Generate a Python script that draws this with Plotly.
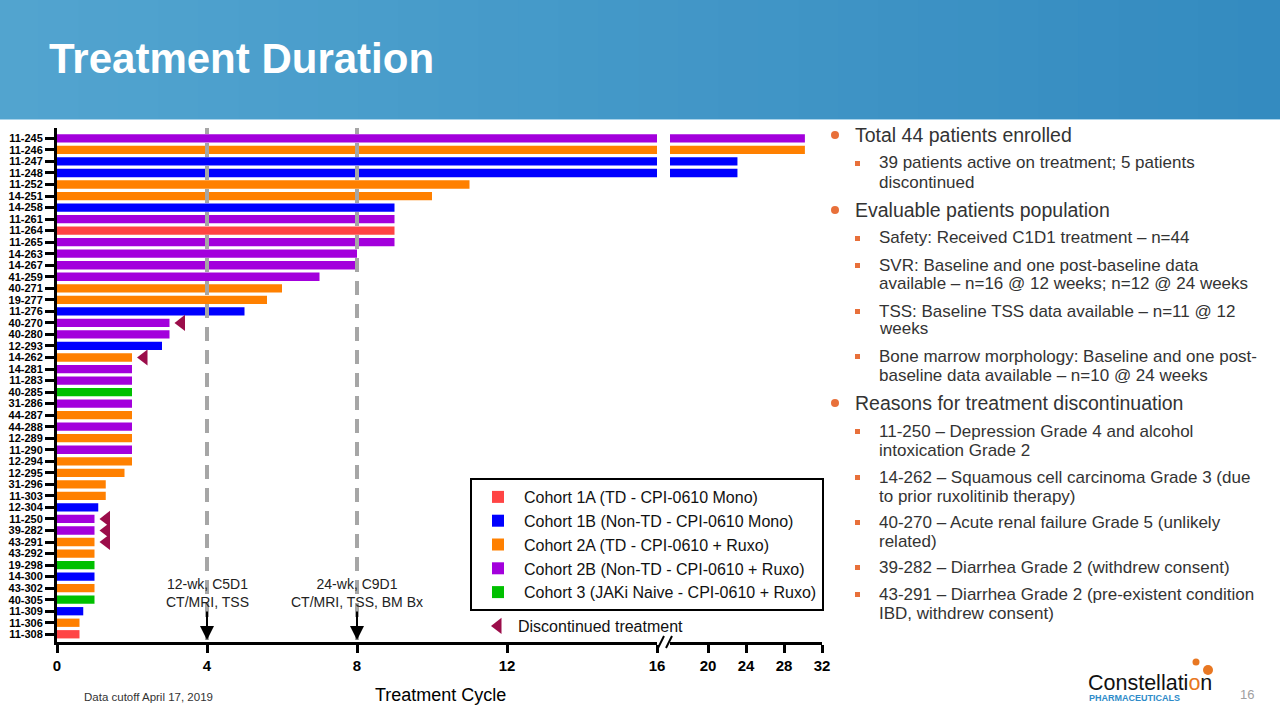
import plotly.graph_objects as go

# ---------------- data ----------------
patients = ["11-245", "11-246", "11-247", "11-248", "11-252", "14-251", "14-258", "11-261",
            "11-264", "11-265", "14-263", "14-267", "41-259", "40-271", "19-277", "11-276",
            "40-270", "40-280", "12-293", "14-262", "14-281", "11-283", "40-285", "31-286",
            "44-287", "44-288", "12-289", "11-290", "12-294", "12-295", "31-296", "11-303",
            "12-304", "11-250", "39-282", "43-291", "43-292", "19-298", "14-300", "43-302",
            "40-305", "11-309", "11-306", "11-308"]
durations = [30.2, 30.2, 23.1, 23.1, 11, 10, 9, 9,
             9, 9, 8, 8, 7, 6, 5.6, 5,
             3, 3, 2.8, 2, 2, 2, 2, 2,
             2, 2, 2, 2, 2, 1.8, 1.3, 1.3,
             1.1, 1, 1, 1, 1, 1, 1, 1,
             1, 0.7, 0.6, 0.6]
cohorts = ["2B", "2A", "1B", "1B", "2A", "2A", "1B", "2B",
           "1A", "2B", "2B", "2B", "2B", "2A", "2A", "1B",
           "2B", "2B", "1B", "2A", "2B", "2B", "3", "2B",
           "2A", "2B", "2A", "2B", "2A", "2A", "2A", "2A",
           "1B", "2B", "2B", "2A", "2A", "3", "1B", "2A",
           "3", "1B", "2A", "1A"]
discontinued = ["40-270", "14-262", "11-250", "39-282", "43-291"]

cohort_keys = ["1A", "1B", "2A", "2B", "3"]
cohort_names = ["Cohort 1A (TD - CPI-0610 Mono)",
                "Cohort 1B (Non-TD - CPI-0610 Mono)",
                "Cohort 2A (TD - CPI-0610 + Ruxo)",
                "Cohort 2B (Non-TD - CPI-0610 + Ruxo)",
                "Cohort 3 (JAKi Naive - CPI-0610 + Ruxo)"]
cohort_colors = ["#FF4444", "#0000FF", "#FF8000", "#A300DC", "#00C000"]

left_ticks = [0, 4, 8, 12, 16]
right_ticks = [20, 24, 28, 32]
milestones = [4, 8]
milestone_labels = ["12-wk, C5D1<br>CT/MRI, TSS", "24-wk, C9D1<br>CT/MRI, TSS, BM Bx"]

W, H = 1280, 720
FONT = "Liberation Sans, Arial, sans-serif"


def fx(p):
    return p / W


def fy(p):
    return 1 - p / H


fig = go.Figure()

# bars: left segment (0-16) and right segment (16-32, compressed)
for key, name, color in zip(cohort_keys, cohort_names, cohort_colors):
    ys = [p for p, c in zip(patients, cohorts) if c == key]
    xs = [d for d, c in zip(durations, cohorts) if c == key]
    fig.add_trace(go.Bar(x=xs, y=ys, orientation="h", name=name, width=0.72,
                         marker=dict(color=color, line=dict(width=0)),
                         xaxis="x", yaxis="y", legend="legend", showlegend=True))
    fig.add_trace(go.Bar(x=xs, y=ys, orientation="h", name=name, width=0.72,
                         marker=dict(color=color, line=dict(width=0)),
                         xaxis="x2", yaxis="y", showlegend=False))

# discontinued markers
disc_x = [durations[patients.index(p)] + 0.32 for p in discontinued]
fig.add_trace(go.Scatter(x=disc_x, y=discontinued, mode="markers",
                         name="Discontinued treatment",
                         marker=dict(symbol="triangle-left", size=14, color="#9B0D4A"),
                         xaxis="x", yaxis="y", legend="legend2", cliponaxis=False))

axis_common = dict(showline=True, linecolor="black", linewidth=3, ticks="outside",
                   ticklen=8, tickwidth=3, tickcolor="black", showgrid=False,
                   zeroline=False, fixedrange=True, automargin=False,
                   tickfont=dict(family=FONT, size=15, color="black", weight="bold"))

fig.update_layout(
    template="none",
    width=W, height=H, autosize=False,
    margin=dict(l=0, r=0, t=0, b=0, pad=0, autoexpand=False),
    paper_bgcolor="white", plot_bgcolor="white",
    barmode="overlay",
    xaxis=dict(domain=[fx(57), fx(657)], range=[0, 16], tickvals=left_ticks,
               anchor="y", **axis_common),
    xaxis2=dict(domain=[fx(670), fx(822)], range=[16, 32], tickvals=right_ticks,
                anchor="y", **axis_common),
    yaxis=dict(domain=[fy(642), fy(128)], type="category", categoryorder="array",
               categoryarray=patients, range=[43.67, -0.9], anchor="x",
               tickmode="array", tickvals=patients, ticktext=patients,
               showline=True, linecolor="black", linewidth=3, ticks="outside",
               ticklen=9, tickwidth=3, tickcolor="black", showgrid=False,
               zeroline=False, fixedrange=True, automargin=False,
               tickfont=dict(family=FONT, size=11, color="black", weight="bold")),
    legend=dict(x=fx(470), y=fy(478), xanchor="left", yanchor="top",
                bordercolor="black", borderwidth=2, bgcolor="white",
                font=dict(family=FONT, size=16, color="#111111"),
                itemwidth=42, tracegroupgap=0, traceorder="normal"),
    legend2=dict(x=fx(478), y=fy(626), xanchor="left", yanchor="middle",
                 bgcolor="rgba(0,0,0,0)", borderwidth=0,
                 font=dict(family=FONT, size=16, color="#111111")),
    font=dict(family=FONT),
)

shapes = []
annotations = []

# header band (horizontal gradient approximated by strips)
n_strips = 32
c0 = (82, 164, 207)
c1 = (52, 139, 192)
for i in range(n_strips):
    t = i / (n_strips - 1)
    c = tuple(int(round(a + (b - a) * t)) for a, b in zip(c0, c1))
    shapes.append(dict(type="rect", xref="paper", yref="paper",
                       x0=i / n_strips - 0.001, x1=(i + 1) / n_strips + 0.001,
                       y0=fy(119), y1=1.01, line=dict(width=0),
                       fillcolor="rgb(%d,%d,%d)" % c, layer="below"))
shapes.append(dict(type="line", xref="paper", yref="paper", x0=0, x1=1,
                   y0=fy(119.5), y1=fy(119.5), line=dict(color="#A9D3EA", width=1)))
annotations.append(dict(text="<b>Treatment Duration</b>", x=fx(47), y=fy(58),
                        xref="paper", yref="paper", xanchor="left", yanchor="middle",
                        showarrow=False,
                        font=dict(family="Liberation Sans, Arial", size=42, color="white")))

# milestone dashed lines, arrows and labels
for m, lab in zip(milestones, milestone_labels):
    shapes.append(dict(type="line", xref="x", yref="paper", x0=m, x1=m,
                       y0=fy(640), y1=fy(128), layer="above",
                       line=dict(color="#A6A6A6", width=4, dash="14px,9px")))
    annotations.append(dict(x=m, y=fy(640), xref="x", yref="paper", text="",
                            showarrow=True, ax=0, ay=-30, arrowhead=2,
                            arrowsize=1.4, arrowwidth=2, arrowcolor="black"))
    annotations.append(dict(x=m, y=fy(593), xref="x", yref="paper", text=lab,
                            showarrow=False, xanchor="center", yanchor="middle",
                            font=dict(family=FONT, size=14, color="#222222")))

# axis break marks
for bx in (661, 669):
    shapes.append(dict(type="line", xref="paper", yref="paper",
                       x0=fx(bx - 3), x1=fx(bx + 3), y0=fy(648), y1=fy(636),
                       line=dict(color="black", width=2)))

# x axis title & footers
annotations.append(dict(text="Treatment Cycle", x=fx(440), y=fy(695), xref="paper",
                        yref="paper", showarrow=False, xanchor="center", yanchor="middle",
                        font=dict(family=FONT, size=18, color="black")))
annotations.append(dict(text="Data cutoff April 17, 2019", x=fx(82), y=fy(697),
                        xref="paper", yref="paper", showarrow=False, xanchor="left",
                        yanchor="middle", font=dict(family=FONT, size=11.5, color="#333333")))
annotations.append(dict(text="16", x=fx(1247), y=fy(694), xref="paper", yref="paper",
                        showarrow=False, xanchor="center", yanchor="middle",
                        font=dict(family=FONT, size=13, color="#A0A0A0")))

# logo approximation
annotations.append(dict(text="Constellati<span style='color:#E87722'>o</span>n",
                        x=fx(1086), y=fy(683), xref="paper", yref="paper",
                        showarrow=False, xanchor="left", yanchor="middle",
                        font=dict(family=FONT, size=21.5, color="#111111")))
annotations.append(dict(text="<b>PHARMACEUTICALS</b>", x=fx(1087), y=fy(698),
                        xref="paper", yref="paper", showarrow=False, xanchor="left",
                        yanchor="middle",
                        font=dict(family=FONT, size=9, color="#2E8BC9")))
for cx, cy, r in ((1196, 662, 3.5), (1208, 670, 5)):
    shapes.append(dict(type="circle", xref="paper", yref="paper",
                       x0=fx(cx - r), x1=fx(cx + r), y0=fy(cy + r), y1=fy(cy - r),
                       fillcolor="#E87722", line=dict(width=0)))

# right-hand text panel
bullets = [
    (0, 135, "Total 44 patients enrolled"),
    (1, 163, "39 patients active on treatment; 5 patients"),
    (2, 182, "discontinued"),
    (0, 210, "Evaluable patients population"),
    (1, 238, "Safety: Received C1D1 treatment \u2013 n=44"),
    (1, 265, "SVR: Baseline and one post-baseline data"),
    (2, 284, "available \u2013 n=16 @ 12 weeks; n=12 @ 24 weeks"),
    (1, 311, "TSS: Baseline TSS data available \u2013 n=11 @ 12"),
    (2, 329, "weeks"),
    (1, 356, "Bone marrow morphology: Baseline and one post-"),
    (2, 375, "baseline data available \u2013 n=10 @ 24 weeks"),
    (0, 403, "Reasons for treatment discontinuation"),
    (1, 431, "11-250 \u2013 Depression Grade 4 and alcohol"),
    (2, 450, "intoxication Grade 2"),
    (1, 477, "14-262 \u2013 Squamous cell carcinoma Grade 3 (due"),
    (2, 496, "to prior ruxolitinib therapy)"),
    (1, 522, "40-270 \u2013 Acute renal failure Grade 5 (unlikely"),
    (2, 541, "related)"),
    (1, 567, "39-282 \u2013 Diarrhea Grade 2 (withdrew consent)"),
    (1, 594, "43-291 \u2013 Diarrhea Grade 2 (pre-existent condition"),
    (2, 613, "IBD, withdrew consent)"),
]
ORANGE = "#E8703A"
for level, ypix, txt in bullets:
    if level == 0:
        annotations.append(dict(text=txt, x=fx(853), y=fy(ypix), xref="paper", yref="paper",
                                showarrow=False, xanchor="left", yanchor="middle",
                                font=dict(family=FONT, size=19.5, color="#333333")))
        shapes.append(dict(type="circle", xref="paper", yref="paper",
                           x0=fx(831), x1=fx(839), y0=fy(ypix + 4), y1=fy(ypix - 4),
                           fillcolor=ORANGE, line=dict(width=0)))
    else:
        annotations.append(dict(text=txt, x=fx(877), y=fy(ypix), xref="paper", yref="paper",
                                showarrow=False, xanchor="left", yanchor="middle",
                                font=dict(family=FONT, size=17, color="#333333")))
        if level == 1:
            shapes.append(dict(type="rect", xref="paper", yref="paper",
                               x0=fx(855), x1=fx(860), y0=fy(ypix + 3), y1=fy(ypix - 2),
                               fillcolor=ORANGE, line=dict(width=0)))

fig.update_layout(shapes=shapes, annotations=annotations)

fig.write_html("out.html", config={"displayModeBar": False},
               post_script="document.documentElement.style.margin='0';document.body.style.margin='0';document.body.style.overflow='hidden';")
